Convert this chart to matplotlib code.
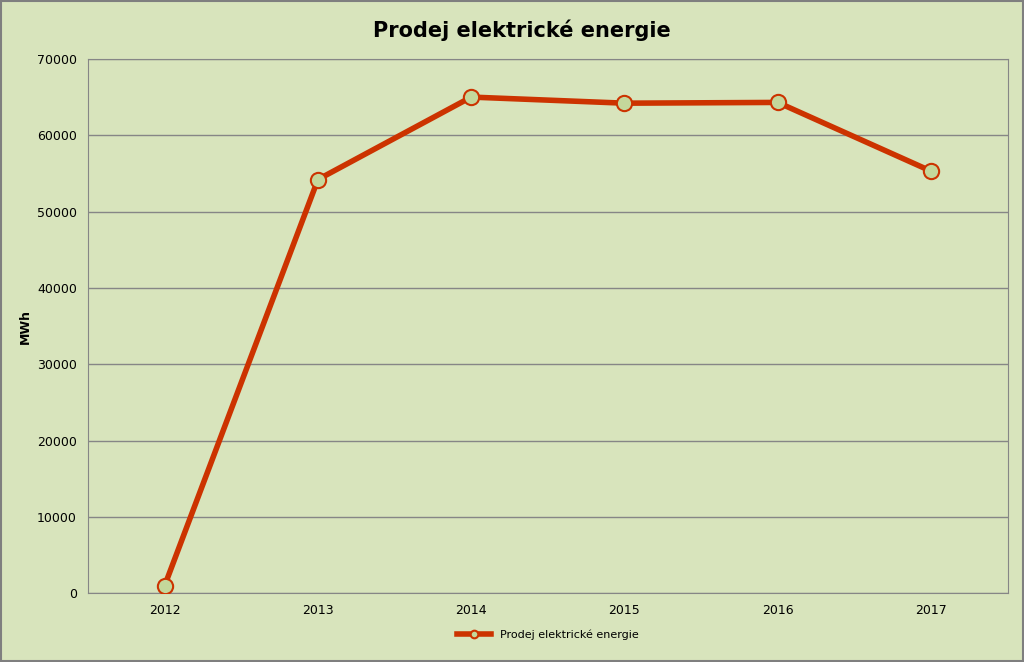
import matplotlib
matplotlib.use("Agg")
import matplotlib.pyplot as plt

years = ["2012", "2013", "2014", "2015", "2016", "2017"]
values = [1000, 54200, 65000, 64200, 64300, 55300]
yticks = [0, 10000, 20000, 30000, 40000, 50000, 60000, 70000]

bg = "#d8e4bc"
fig = plt.figure(figsize=(10.24, 6.62), dpi=100, facecolor=bg)
fig.patches.append(plt.Rectangle((0.001, 0.001), 0.998, 0.997, transform=fig.transFigure,
                                 fill=False, edgecolor="#7f7f7f", linewidth=1.5))
ax = fig.add_axes([0.086, 0.104, 0.898, 0.807], facecolor=bg)
x = list(range(len(years)))
ax.plot(x, values, color="#cc3300", linewidth=4, marker="o", markersize=11,
        markerfacecolor="#c4d79b", markeredgecolor="#cc3300", markeredgewidth=1.5,
        label="Prodej elektrické energie", zorder=3)
ax.set_xlim(-0.5, len(years) - 0.5)
ax.set_ylim(0, 70000)
ax.set_yticks(yticks)
ax.set_yticklabels([str(v) for v in yticks], fontsize=9)
ax.set_xticks(x)
ax.set_xticklabels(years, fontsize=9)
ax.yaxis.grid(True, color="#868686", linewidth=1)
ax.set_axisbelow(True)
for s in ax.spines.values():
    s.set_color("#868686")
ax.tick_params(axis="both", length=0, pad=8)
ax.set_ylabel("MWh", fontsize=9, fontweight="bold")
fig.text(0.51, 0.955, "Prodej elektrické energie", ha="center", va="center",
         fontsize=15, fontweight="bold")
ax.legend(loc="upper center", bbox_to_anchor=(0.5, -0.05), frameon=False,
          fontsize=8, handlelength=3, markerscale=0.5)
fig.savefig("out.png", dpi=100, facecolor=bg)
